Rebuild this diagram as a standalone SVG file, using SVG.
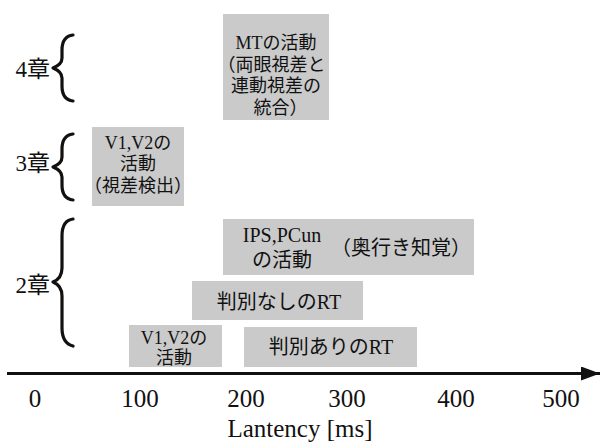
<svg xmlns="http://www.w3.org/2000/svg" width="601" height="442" viewBox="0 0 601 442">
<style>
.box{fill:#cacaca}
.t{font-family:"Liberation Serif","Times New Roman",Times,"DejaVu Serif","Noto Sans CJK JP",serif;fill:#111;text-anchor:middle;font-feature-settings:"halt"}
.s18{font-size:18px}
.s20{font-size:20px}
.ch{font-family:"Liberation Serif","Times New Roman",Times,"DejaVu Serif","Noto Sans CJK JP",serif;font-size:23px;fill:#111;text-anchor:end}
.brace{fill:none;stroke:#111;stroke-width:3.2;stroke-linecap:round;stroke-linejoin:round}
.tick{font-family:"Liberation Serif","Times New Roman",Times,"DejaVu Serif",serif;font-size:25px;fill:#111;text-anchor:middle}
.axis{stroke:#111;stroke-width:3}
</style>
<defs>
<marker id="arr" markerWidth="19" markerHeight="14" refX="19" refY="7" orient="auto" markerUnits="userSpaceOnUse">
<path d="M0,0 L19,7 L0,14 Z" fill="#111"/>
</marker>
</defs>
<g id="chapters">
<g id="ch4">
<text class="ch" x="50" y="77">4章</text>
<path class="brace" d="M73,35 C65,36 62,42 62,50 L62,58 C62,63 58,66 53,68 C58,70 62,73 62,78 L62,86 C62,94 65,100 73,101"/>
</g>
<g id="ch3">
<text class="ch" x="50" y="171">3章</text>
<path class="brace" d="M73,134 C65,135 62,141 62,149 L62,157 C62,162 58,165 53,167 C58,169 62,172 62,177 L62,185 C62,193 65,199 73,200"/>
</g>
<g id="ch2">
<text class="ch" x="50" y="293">2章</text>
<path class="brace" d="M73,219 C65,220 62,226 62,236 L62,268 C62,276 58,280 53,282 C58,284 62,288 62,296 L62,328 C62,338 65,344 73,346"/>
</g>
</g>
<g id="n_mt">
<rect class="box" x="223" y="14" width="106" height="106"/>
<text class="t s18" x="276"><tspan x="276" y="49">MTの活動</tspan><tspan x="276" y="71">（両眼視差と</tspan><tspan x="276" y="92">連動視差の</tspan><tspan x="276" y="114">統合）</tspan></text>
</g>
<g id="n_v1v2_3">
<rect class="box" x="92" y="127" width="92" height="79"/>
<text class="t s18" x="138"><tspan x="138" y="149">V1,V2の</tspan><tspan x="138" y="170">活動</tspan><tspan x="138" y="192">（視差検出）</tspan></text>
</g>
<g id="n_ips">
<rect class="box" x="223" y="219" width="251" height="56"/>
<text class="t s20" x="282" y="242">IPS,PCun</text>
<text class="t s20" x="282" y="267">の活動</text>
<text class="t s20" x="401" y="255">（奥行き知覚）</text>
</g>
<g id="n_rt_nashi">
<rect class="box" x="192" y="281" width="171" height="39"/>
<text class="t s20" x="279" y="309">判別なしのRT</text>
</g>
<g id="n_v1v2_2">
<rect class="box" x="129" y="325" width="93" height="42"/>
<text class="t s18" x="174"><tspan x="174" y="344">V1,V2の</tspan><tspan x="174" y="364">活動</tspan></text>
</g>
<g id="n_rt_ari">
<rect class="box" x="244" y="327" width="173" height="40"/>
<text class="t s20" x="331" y="354">判別ありのRT</text>
</g>
<g id="connectors">
<line class="axis" x1="7" y1="373.5" x2="600" y2="373.5" marker-end="url(#arr)"/>
</g>
<g id="axis_labels">
<text class="tick" x="35" y="407">0</text>
<text class="tick" x="140" y="407">100</text>
<text class="tick" x="246" y="407">200</text>
<text class="tick" x="347" y="407">300</text>
<text class="tick" x="456" y="407">400</text>
<text class="tick" x="561" y="407">500</text>
<text class="tick" x="300" y="437">Lantency [ms]</text>
</g>
</svg>
